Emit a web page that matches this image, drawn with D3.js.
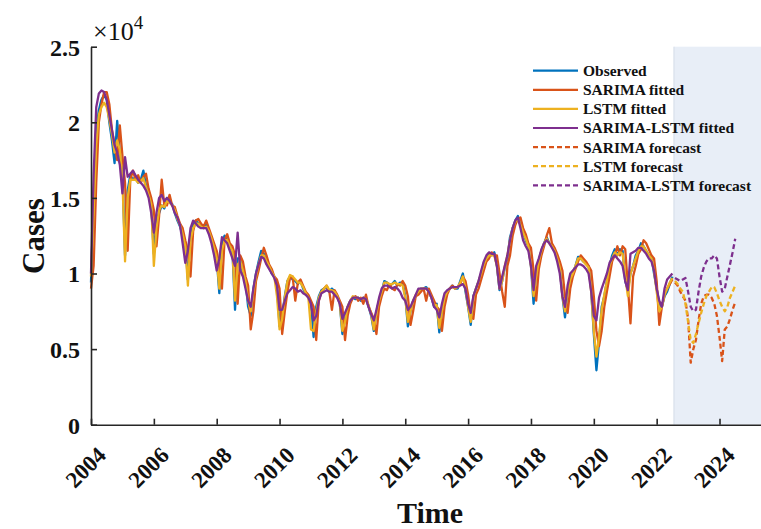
<!DOCTYPE html>
<html><head><meta charset="utf-8">
<script src="https://cdn.jsdelivr.net/npm/d3@7/dist/d3.min.js"></script>
<style>
html,body{margin:0;padding:0;background:#fff;}
svg{display:block;font-family:"Liberation Serif","Times New Roman",serif;}
</style></head><body>
<svg id="chart" width="761" height="529"></svg>
<script>
// Monthly series, values in units of 10^4 cases. Index 0 = Jan 2004.
const startYear = 2004;
const observed = [
0.94,1.50,1.95,2.08,2.15,2.18,2.15,2.00,1.88,1.73,2.01,1.80,
1.66,1.12,1.55,1.65,1.62,1.64,1.60,1.62,1.68,1.58,1.52,1.45,
1.13,1.35,1.40,1.45,1.43,1.50,1.47,1.46,1.40,1.35,1.31,1.25,
1.20,0.96,1.25,1.32,1.35,1.33,1.32,1.30,1.33,1.28,1.22,1.15,
1.10,0.87,1.20,1.25,1.22,1.18,1.15,0.76,1.10,1.10,1.00,0.95,
0.78,0.72,0.90,1.00,1.08,1.15,1.13,1.08,1.05,1.00,0.98,0.93,
0.65,0.72,0.85,0.95,0.98,0.96,0.95,0.93,0.95,0.90,0.86,0.85,
0.80,0.58,0.78,0.85,0.89,0.90,0.91,0.88,0.90,0.88,0.85,0.80,
0.60,0.70,0.78,0.82,0.84,0.83,0.84,0.82,0.84,0.83,0.78,0.72,
0.62,0.75,0.82,0.88,0.95,0.94,0.92,0.93,0.95,0.92,0.94,0.94,
0.85,0.65,0.75,0.82,0.85,0.88,0.90,0.90,0.91,0.88,0.84,0.78,
0.80,0.61,0.75,0.85,0.88,0.90,0.92,0.90,0.90,0.95,1.00,0.88,
0.78,0.66,0.85,0.90,0.95,1.00,1.07,1.10,1.13,1.12,1.14,1.05,
0.89,0.95,1.04,1.10,1.24,1.30,1.35,1.38,1.32,1.27,1.22,1.18,
1.05,0.80,1.00,1.09,1.15,1.20,1.24,1.20,1.18,1.15,1.10,1.04,
0.85,0.71,0.88,0.96,1.00,1.05,1.11,1.10,1.08,1.07,1.05,0.89,
0.60,0.36,0.55,0.78,0.85,0.95,1.05,1.12,1.16,1.12,1.16,1.15,
0.95,0.89,1.00,1.05,1.12,1.15,1.20,1.18,1.15,1.12,1.11,1.00,
0.90,0.80,0.78,0.85,0.88,0.93,0.98];
const sarimaFitted = [
0.90,1.05,1.60,2.00,2.12,2.20,2.20,2.12,1.95,1.85,1.75,1.98,
1.78,1.60,1.15,1.62,1.68,1.62,1.65,1.60,1.64,1.66,1.56,1.50,
1.42,1.18,1.38,1.62,1.45,1.45,1.52,1.45,1.44,1.38,1.33,1.30,
1.22,1.15,0.98,1.28,1.35,1.36,1.33,1.31,1.35,1.30,1.25,1.20,
1.15,1.05,0.90,1.22,1.26,1.20,1.18,1.12,0.80,1.12,1.08,0.98,
0.92,0.63,0.75,0.95,1.02,1.10,1.17,1.12,1.06,1.03,0.98,0.96,
0.90,0.60,0.75,0.88,0.97,0.98,0.82,0.94,0.96,0.92,0.88,0.86,
0.82,0.78,0.56,0.82,0.88,0.90,0.92,0.88,0.76,0.89,0.86,0.82,
0.78,0.56,0.72,0.80,0.84,0.85,0.82,0.84,0.80,0.86,0.78,0.74,
0.70,0.60,0.78,0.85,0.90,0.89,0.93,0.90,0.89,0.93,0.92,0.95,
0.92,0.85,0.66,0.75,0.85,0.86,0.88,0.90,0.82,0.90,0.86,0.82,
0.78,0.76,0.62,0.78,0.86,0.90,0.92,0.90,0.91,0.93,0.98,0.95,
0.86,0.72,0.70,0.86,0.90,0.96,1.02,1.08,1.10,1.14,1.12,1.12,
1.00,0.88,0.78,1.05,1.12,1.25,1.32,1.36,1.37,1.30,1.26,1.20,
1.17,1.02,0.82,1.03,1.12,1.18,1.25,1.30,1.20,1.17,1.13,1.08,
1.02,0.85,0.74,0.90,0.98,1.03,1.08,1.12,1.10,1.08,1.05,1.02,
0.85,0.62,0.52,0.62,0.78,0.88,0.98,1.08,1.12,1.18,1.12,1.18,
1.16,0.92,0.67,0.98,1.05,1.13,1.16,1.22,1.20,1.16,1.12,1.10,
0.95,0.66,0.78,0.86,0.90,0.93,0.96];
const lstmFitted = [
0.98,1.40,1.85,2.05,2.10,2.13,2.10,2.02,1.92,1.80,1.88,1.82,
1.62,1.08,1.50,1.62,1.62,1.62,1.60,1.61,1.63,1.57,1.52,1.46,
1.05,1.30,1.42,1.45,1.44,1.48,1.47,1.45,1.42,1.36,1.32,1.26,
1.18,0.92,1.22,1.30,1.33,1.33,1.31,1.30,1.31,1.28,1.23,1.17,
1.10,0.90,1.15,1.22,1.22,1.18,1.15,0.82,1.06,1.08,1.02,0.95,
0.82,0.75,0.88,0.98,1.06,1.12,1.12,1.08,1.05,1.01,0.98,0.85,
0.63,0.70,0.84,0.95,0.99,0.98,0.96,0.94,0.94,0.91,0.87,0.84,
0.63,0.62,0.75,0.84,0.88,0.90,0.92,0.89,0.89,0.88,0.85,0.80,
0.62,0.68,0.78,0.82,0.85,0.84,0.84,0.83,0.84,0.83,0.79,0.73,
0.63,0.74,0.82,0.88,0.94,0.94,0.93,0.93,0.94,0.93,0.93,0.92,
0.84,0.68,0.75,0.82,0.86,0.88,0.90,0.90,0.90,0.88,0.84,0.79,
0.79,0.64,0.75,0.84,0.88,0.90,0.91,0.90,0.91,0.94,0.98,0.90,
0.78,0.68,0.84,0.90,0.95,1.00,1.06,1.10,1.12,1.12,1.12,1.05,
0.90,0.95,1.05,1.12,1.22,1.30,1.34,1.36,1.32,1.27,1.23,1.18,
1.05,0.85,0.98,1.08,1.15,1.20,1.23,1.20,1.18,1.15,1.10,1.04,
0.85,0.75,0.88,0.96,1.00,1.05,1.10,1.10,1.08,1.06,1.04,0.88,
0.62,0.45,0.58,0.76,0.86,0.95,1.05,1.10,1.14,1.12,1.14,1.13,
0.98,0.85,1.00,1.05,1.10,1.15,1.18,1.18,1.15,1.12,1.10,1.02,
0.88,0.75,0.78,0.86,0.90,0.94,0.97];
const hybridFitted = [
1.00,1.65,2.10,2.19,2.21,2.20,2.15,2.05,1.95,1.85,1.80,1.72,
1.53,1.77,1.64,1.66,1.68,1.65,1.62,1.60,1.58,1.55,1.50,1.40,
1.27,1.40,1.50,1.52,1.48,1.50,1.48,1.45,1.40,1.37,1.32,1.20,
1.07,1.15,1.30,1.35,1.33,1.31,1.30,1.30,1.30,1.26,1.20,1.12,
1.02,1.10,1.24,1.22,1.20,1.15,1.10,1.05,1.27,1.02,0.98,0.90,
0.82,0.78,0.90,1.00,1.06,1.11,1.10,1.06,1.03,1.00,0.97,0.92,
0.76,0.76,0.82,0.87,0.89,0.91,0.90,0.88,0.89,0.87,0.86,0.84,
0.80,0.69,0.72,0.82,0.87,0.88,0.89,0.88,0.88,0.86,0.84,0.80,
0.70,0.74,0.78,0.82,0.84,0.84,0.84,0.83,0.84,0.83,0.78,0.73,
0.69,0.76,0.84,0.90,0.92,0.92,0.91,0.90,0.91,0.90,0.88,0.84,
0.82,0.76,0.78,0.82,0.86,0.90,0.90,0.90,0.90,0.88,0.84,0.78,
0.76,0.71,0.80,0.87,0.89,0.90,0.91,0.91,0.91,0.92,0.93,0.90,
0.80,0.74,0.85,0.90,0.95,1.02,1.08,1.12,1.14,1.13,1.13,1.05,
0.90,0.98,1.05,1.12,1.22,1.30,1.35,1.37,1.30,1.22,1.18,1.15,
1.05,0.89,1.05,1.10,1.16,1.20,1.22,1.20,1.17,1.14,1.08,1.00,
0.85,0.78,0.92,1.00,1.02,1.04,1.06,1.06,1.05,1.03,1.00,0.88,
0.72,0.69,0.84,0.90,0.95,1.00,1.07,1.10,1.12,1.10,1.08,1.05,
0.95,0.89,1.13,1.14,1.15,1.17,1.17,1.15,1.13,1.10,1.08,1.02,
0.90,0.82,0.78,0.90,0.96,0.98,1.00];
// Forecasts: 24 months, starting at month index 223 (Aug 2022)
const forecastStartIndex = 223;
const sarimaForecast = [0.94,0.92,0.88,0.85,0.82,0.70,0.41,0.50,0.56,0.69,0.80,0.85,0.86,0.86,0.84,0.80,0.72,0.58,0.42,0.63,0.65,0.70,0.76,0.81];
const lstmForecast   = [0.95,0.93,0.90,0.88,0.80,0.68,0.56,0.54,0.60,0.67,0.74,0.80,0.85,0.88,0.91,0.91,0.87,0.82,0.78,0.75,0.78,0.84,0.88,0.92];
const hybridForecast = [0.97,0.96,0.95,0.96,0.97,0.88,0.78,0.75,0.76,0.88,0.98,1.04,1.08,1.10,1.10,1.12,1.10,0.98,0.88,0.90,0.98,1.06,1.14,1.23];

const xTicks = [2004,2006,2008,2010,2012,2014,2016,2018,2020,2022,2024];
const yTicks = [0,0.5,1,1.5,2,2.5];
const xDomain = [2004, 2025.32];
const yDomain = [0, 2.5];
const shadeRange = [2022.55, 2025.32];

const legendLabels = ["Observed","SARIMA fitted","LSTM fitted","SARIMA-LSTM fitted","SARIMA forecast","LSTM forecast","SARIMA-LSTM forecast"];
const seriesColors = ["#0072BD","#D95319","#EDB120","#7E2F8E","#D95319","#EDB120","#7E2F8E"];

const svg = d3.select("#chart");
const L = 91, R = 761, T = 46.7, B = 424.7;
const x = d3.scaleLinear().domain(xDomain).range([L, R]);
const y = d3.scaleLinear().domain(yDomain).range([B, T]);

// shaded forecast region
svg.append("rect")
  .attr("x", x(shadeRange[0])).attr("y", T)
  .attr("width", x(shadeRange[1]) - x(shadeRange[0])).attr("height", B - T)
  .attr("fill", "#E8EEF7");
svg.append("line")
  .attr("x1", x(shadeRange[0])).attr("x2", x(shadeRange[0]))
  .attr("y1", T).attr("y2", B)
  .attr("stroke", "#D3DCE8").attr("stroke-width", 1);

const fitted = [observed, sarimaFitted, lstmFitted, hybridFitted];
const forecasts = [sarimaForecast, lstmForecast, hybridForecast];

const line = d3.line().x(d => x(d[0])).y(d => y(d[1]));
const toPts = (arr, off) => arr.map((v, i) => [startYear + (i + off) / 12, v]);

const plot = svg.append("g");
fitted.forEach((arr, k) => {
  plot.append("path").datum(toPts(arr, 0))
    .attr("d", line).attr("fill", "none")
    .attr("stroke", seriesColors[k]).attr("stroke-width", 2.3)
    .attr("stroke-linejoin", "round");
});
forecasts.forEach((arr, k) => {
  plot.append("path").datum(toPts(arr, forecastStartIndex))
    .attr("d", line).attr("fill", "none")
    .attr("stroke", seriesColors[k + 4]).attr("stroke-width", 2.3)
    .attr("stroke-dasharray", "5,3")
    .attr("stroke-linejoin", "round");
});

// axes
const axisColor = "#262626";
const xAxis = d3.axisBottom(x).tickValues(xTicks).tickSizeInner(-6).tickSizeOuter(0).tickFormat(d3.format("d"));
const gx = svg.append("g").attr("transform", `translate(0,${B})`).call(xAxis);
gx.select(".domain").attr("stroke", axisColor).attr("stroke-width", 1.6);
gx.selectAll(".tick line").attr("stroke", axisColor).attr("stroke-width", 1.6);
gx.selectAll(".tick text")
  .attr("y", 0).attr("dy", 0)
  .attr("transform", "translate(16,32) rotate(-45)")
  .attr("text-anchor", "end")
  .attr("fill", "#111")
  .style("font-family", "'Liberation Serif','Times New Roman',serif")
  .style("font-size", "23px").style("font-weight", "bold");

const yAxis = d3.axisLeft(y).tickValues(yTicks).tickSizeInner(-6).tickSizeOuter(0).tickPadding(11).tickFormat(d3.format("~g"));
const gy = svg.append("g").attr("transform", `translate(${L},0)`).call(yAxis);
gy.select(".domain").attr("stroke", axisColor).attr("stroke-width", 1.6);
gy.selectAll(".tick line").attr("stroke", axisColor).attr("stroke-width", 1.6);
gy.selectAll(".tick text")
  .attr("dy", "0.35em")
  .attr("fill", "#111")
  .style("font-family", "'Liberation Serif','Times New Roman',serif")
  .style("font-size", "24px").style("font-weight", "bold");

// exponent label
const ex = svg.append("text").attr("x", 93).attr("y", 40)
  .attr("fill", "#111").style("font-size", "26px");
ex.append("tspan").text("\u00D710");
ex.append("tspan").attr("dy", -11).style("font-size", "19px").text("4");

// axis titles
svg.append("text").attr("x", 430).attr("y", 523).attr("text-anchor", "middle")
  .attr("fill", "#111").style("font-size", "30px").style("font-weight", "bold").text("Time");
svg.append("text").attr("transform", "translate(44,236) rotate(-90)").attr("text-anchor", "middle")
  .attr("fill", "#111").style("font-size", "31px").style("font-weight", "bold").text("Cases");

// legend
const lg = svg.append("g");
legendLabels.forEach((lab, k) => {
  const yy = 70.7 + k * 19.1;
  lg.append("line").attr("x1", 533).attr("x2", 578).attr("y1", yy).attr("y2", yy)
    .attr("stroke", seriesColors[k]).attr("stroke-width", 2.2)
    .attr("stroke-dasharray", k >= 4 ? "5,3" : null);
  lg.append("text").attr("x", 583).attr("y", yy).attr("dy", "0.35em")
    .attr("fill", "#111").style("font-size", "15.5px").style("font-weight", "bold").text(lab);
});
</script>
</body></html>
